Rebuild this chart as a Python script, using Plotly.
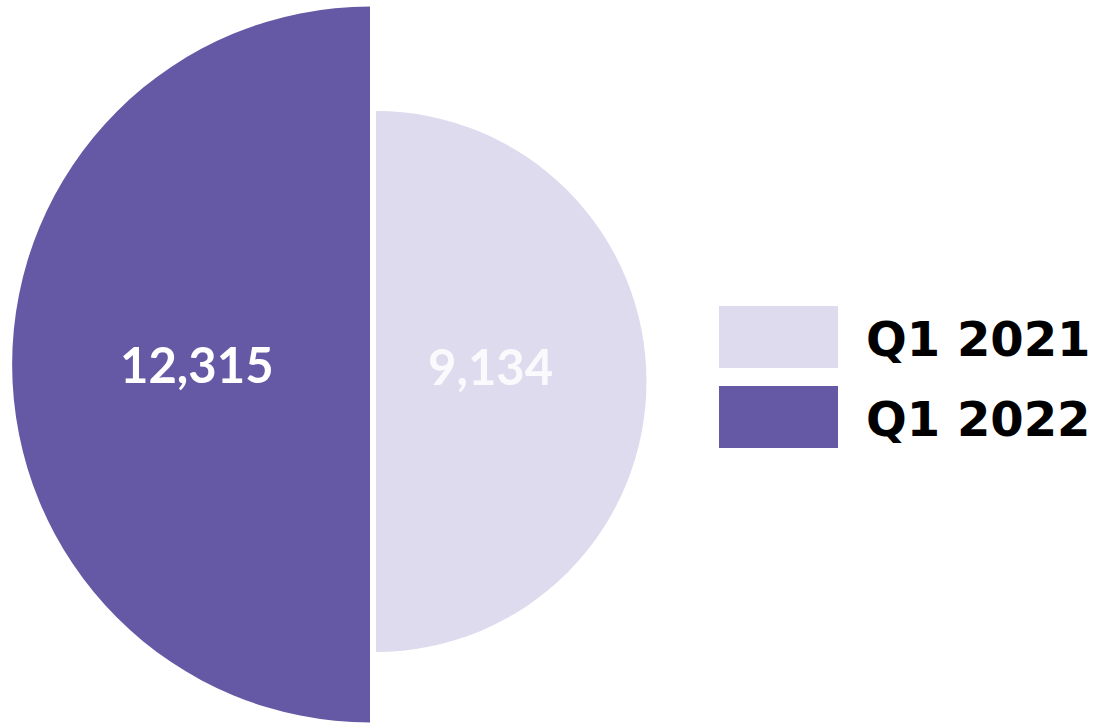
import plotly.graph_objects as go

periods = ["Q1 2021", "Q1 2022"]
counts = [9134, 12315]
labels = ["9,134", "12,315"]
colors = ["#DEDBEF", "#6559A5"]

W, H = 1101, 723


def domain(cx, cy, r):
    # cx, cy in pixels from top-left
    return dict(x=[max(0, (cx - r) / W), min(1, (cx + r) / W)],
                y=[max(0, (H - cy - r) / H), min(1, (H - cy + r) / H)])


fig = go.Figure()

# right half: Q1 2021 (smaller)
fig.add_trace(go.Pie(
    values=[counts[0], counts[0]],
    labels=[periods[0], "blank_a"],
    marker=dict(colors=[colors[0], "rgba(0,0,0,0)"], line=dict(width=0)),
    sort=False, direction="clockwise", rotation=0,
    textinfo="none", hoverinfo="skip", showlegend=False,
    domain=domain(376, 381.5, 270.5),
))

# left half: Q1 2022 (larger)
fig.add_trace(go.Pie(
    values=[counts[1], counts[1]],
    labels=["blank_b", periods[1]],
    marker=dict(colors=["rgba(0,0,0,0)", colors[1]], line=dict(width=0)),
    sort=False, direction="clockwise", rotation=0,
    textinfo="none", hoverinfo="skip", showlegend=False,
    domain=domain(370, 364.5, 358),
))

# value labels
fig.add_annotation(x=490 / W, y=1 - 366 / H, xref="paper", yref="paper",
                   text=labels[0], showarrow=False, xanchor="center",
                   font=dict(family="Lato", size=49, color="#FAFAFD", weight="bold"))
fig.add_annotation(x=197 / W, y=1 - 364 / H, xref="paper", yref="paper",
                   text=labels[1], showarrow=False, xanchor="center",
                   font=dict(family="Lato", size=49, color="white", weight="bold"))

# legend
for i, (name, c) in enumerate(zip(periods, colors)):
    top = 306 + i * 80
    fig.add_shape(type="rect", xref="paper", yref="paper",
                  x0=719 / W, x1=838 / W, y0=1 - (top + 62) / H, y1=1 - top / H,
                  fillcolor=c, line=dict(width=0))
    fig.add_annotation(x=864 / W, y=1 - (top + 33) / H, xref="paper", yref="paper",
                       text=name, showarrow=False, xanchor="left",
                       font=dict(family="DejaVu Sans", size=48, color="black", weight="bold"))

fig.update_layout(width=W, height=H, margin=dict(l=0, r=0, t=0, b=0),
                  paper_bgcolor="white", plot_bgcolor="white")

fig.write_html("out.html", config={"displayModeBar": False},
               post_script="document.body.style.margin='0';")
